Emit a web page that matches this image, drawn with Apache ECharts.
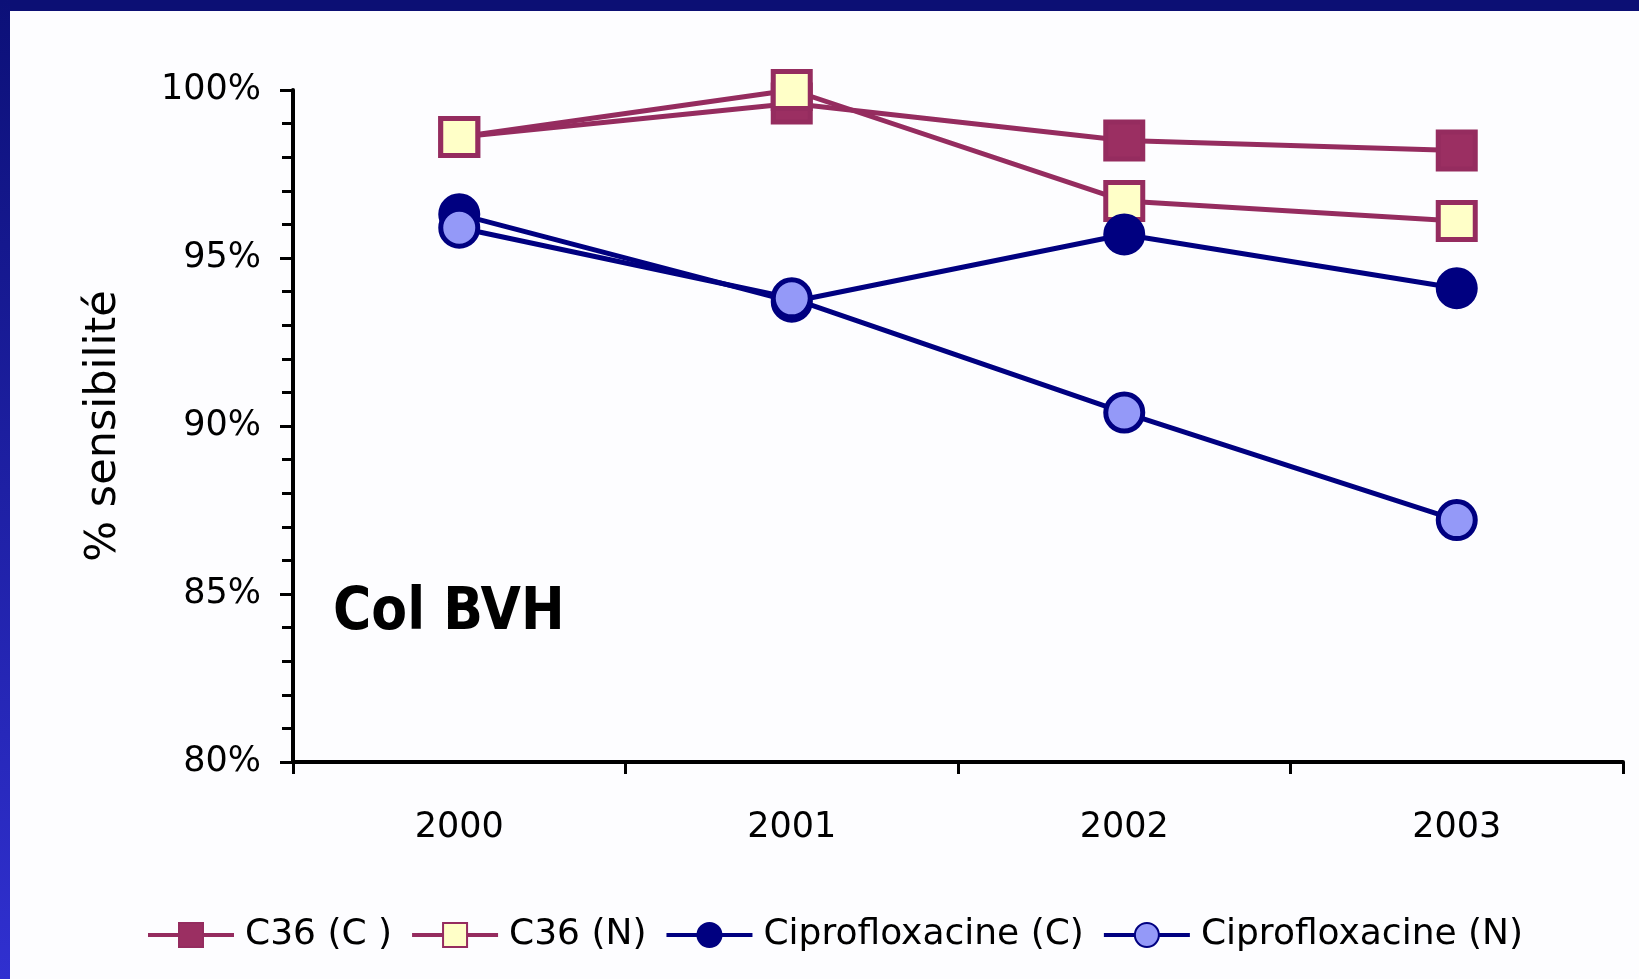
<!DOCTYPE html>
<html>
<head>
<meta charset="utf-8">
<script src="https://cdn.jsdelivr.net/npm/echarts@6/dist/echarts.min.js"></script>
<style>
html,body{margin:0;padding:0;background:#ffffff;}
#chart{width:1639px;height:979px;}
</style>
</head>
<body>
<div id="chart"></div>
<script>
// years on the x axis
const years = ['2000', '2001', '2002', '2003']
// % sensibilité per series
const c36C = [98.6, 99.6, 98.5, 98.2]
const c36N = [98.6, 100, 96.7, 96.1]
const ciproC = [96.3, 93.7, 95.7, 94.1]
const ciproN = [95.9, 93.8, 90.4, 87.2]
const seriesNames = ['C36 (C )', 'C36 (N)', 'Ciprofloxacine (C)', 'Ciprofloxacine (N)']

const plum = '#952c5f'
const navy = '#000080'

const chart = echarts.init(document.getElementById('chart'))

function lineSeries(name, data, symbol, fill, edge){
    return {
        name: name,
        type: 'line',
        data: data,
        symbol: symbol,
        symbolSize: 37,
        lineStyle: {color: edge, width: 5},
        itemStyle: {color: fill, borderColor: edge, borderWidth: 5},
        emphasis: {disabled: true},
        z: 3
    }
}

const option = {
    animation: false,
    backgroundColor: '#fdfdff',
    textStyle: {fontFamily: 'DejaVu Sans'},
    graphic: [
        {type: 'rect', shape: {x: 0, y: 0, width: 1639, height: 11}, style: {fill: '#0c0f74'}, silent: true},
        {type: 'rect', shape: {x: 0, y: 0, width: 10, height: 979}, silent: true,
         style: {fill: new echarts.graphic.LinearGradient(0, 0, 0, 1, [
            {offset: 0, color: '#0c1078'}, {offset: 1, color: '#3030d0'}])}},
        {type: 'text', left: 333, top: 585, silent: true,
         style: {text: 'Col BVH', fontFamily: 'DejaVu Sans Condensed', fontWeight: 'bold', fontSize: 58, fill: '#000'}}
    ],
    grid: {left: 293, right: 16, top: 90, bottom: 217},
    legend: {
        data: seriesNames,
        left: 141,
        top: 912,
        itemWidth: 86,
        itemHeight: 30,
        itemGap: 18,
        lineStyle: {width: 4},
        textStyle: {fontSize: 36, color: '#000', padding: [0, 0, 0, 6]}
    },
    xAxis: {
        type: 'category',
        data: years,
        boundaryGap: true,
        axisLine: {lineStyle: {color: '#000', width: 4}},
        axisTick: {show: true, length: 12, lineStyle: {color: '#000', width: 3}},
        axisLabel: {fontSize: 35, color: '#000', margin: 48}
    },
    yAxis: {
        type: 'value',
        min: 80,
        max: 100,
        interval: 5,
        name: '% sensibilité',
        nameLocation: 'middle',
        nameRotate: 90,
        nameGap: 168,
        nameTextStyle: {fontSize: 43, color: '#000'},
        axisLine: {show: true, lineStyle: {color: '#000', width: 4}},
        axisTick: {show: true, length: 13, lineStyle: {color: '#000', width: 3}},
        minorTick: {show: true, splitNumber: 5, length: 11, lineStyle: {color: '#000', width: 3}},
        splitLine: {show: false},
        axisLabel: {fontSize: 35, color: '#000', margin: 32, formatter: '{value}%'}
    },
    series: [
        lineSeries(seriesNames[0], c36C, 'rect', '#9b2f62', plum),
        lineSeries(seriesNames[1], c36N, 'rect', '#ffffc8', plum),
        lineSeries(seriesNames[2], ciproC, 'circle', navy, navy),
        lineSeries(seriesNames[3], ciproN, 'circle', '#9499f8', navy)
    ]
}

chart.setOption(option)
</script>
</body>
</html>
